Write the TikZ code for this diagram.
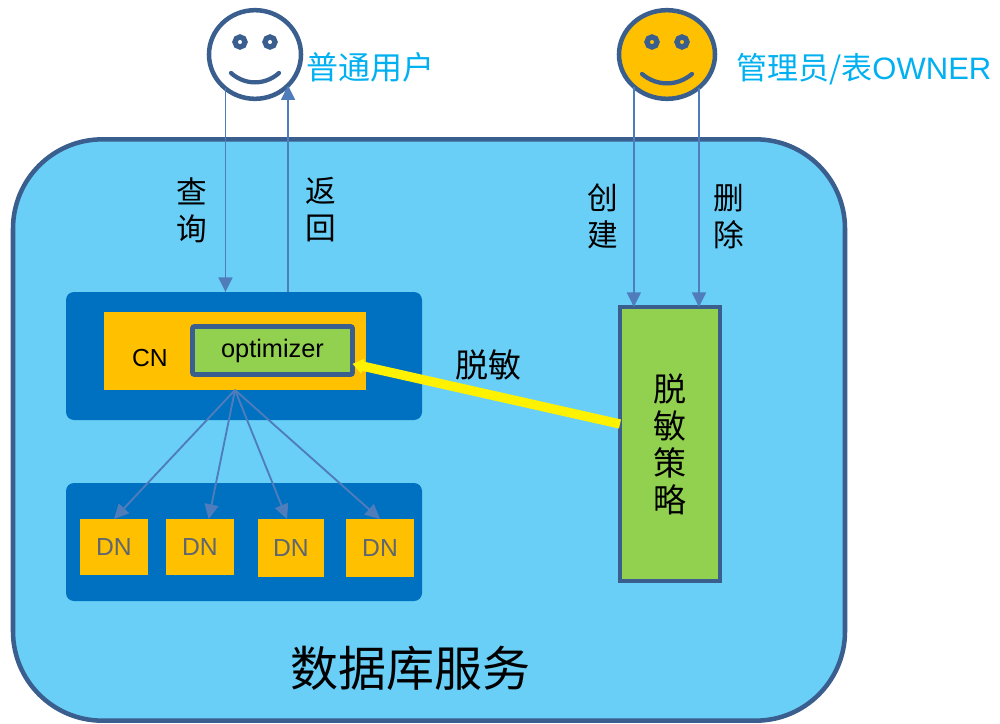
\documentclass[tikz,border=0pt]{standalone}
\usepackage{fontspec}
\setmainfont{Liberation Sans}
\newfontfamily\cjk{Noto Sans CJK SC}
\usetikzlibrary{
	arrows.meta,
	positioning,
	shapes.geometric,
	calc,
}
\definecolor{MyBorder}{HTML}{3A5F8F}
\definecolor{MyLine}{HTML}{4F7DBB}
\definecolor{MySky}{HTML}{69CFF7}
\definecolor{MyBlue}{HTML}{0070C0}
\definecolor{MyGold}{HTML}{FFC000}
\definecolor{MyGreen}{HTML}{92D050}
\definecolor{MyCyan}{HTML}{00B0F0}
\definecolor{MyGray}{HTML}{5F6670}

\begin{document}
\begin{tikzpicture}	[
				x=0.75pt,y=-0.75pt,
				every node/.style={align=center,outer sep=0pt,inner sep=0pt},
				face/.style={ellipse,draw=MyBorder,line width=3.4pt},
				eye/.style={circle,draw=MyBorder,line width=4pt,minimum size=7.5pt},
				smile/.style={draw=MyBorder,line width=3.2pt,line cap=round},
				panel/.style={fill=MyBlue,rounded corners=6pt,minimum width=267pt},
				dnbox/.style={fill=MyGold,text=MyGray,font=\fontsize{18.5}{22}\selectfont},
				flow/.style={-{Triangle[length=11pt,width=10.5pt]},draw=MyLine,line width=1.4pt},
				vlabel/.style={font=\cjk\fontsize{23}{27.75}\selectfont},
				usertext/.style={text=MyCyan,font=\fontsize{23.25}{27}\selectfont},
			]
			\useasboundingbox (0,0) rectangle (1000,724);

			\node (service) [rectangle,draw=MyBorder,line width=3.4pt,fill=MySky,rounded corners=67pt,minimum width=624pt,minimum height=436pt] at (429,430) {};
			\node (servicename) [font=\cjk\fontsize{36}{42}\selectfont] at (410,668) {数据库服务};

			\node (cnpanel) [panel,minimum height=96pt] at (244,356) {};
			\node (dnpanel) [panel,minimum height=88.5pt,below=47.25pt of cnpanel] {};
			\node (cnbox) [fill=MyGold,minimum width=196.5pt,minimum height=58.5pt] at (235,351) {};
			\node (cnname) [font=\fontsize{18.5}{22}\selectfont] at (150,358) {CN};
			\node (optimizer) [draw=MyBorder,line width=3.6pt,fill=MyGreen,rounded corners=1.5pt,minimum width=120pt,minimum height=36pt,font=\fontsize{19}{22}\selectfont] at (272.5,350.5) {optimizer};

			\node (dna) [dnbox,minimum width=51pt,minimum height=42pt] at (114,547) {DN};
			\node (dnb) [dnbox,minimum width=51pt,minimum height=42pt,right=13.5pt of dna] {DN};
			\node (dnc) [dnbox,minimum width=49.5pt,minimum height=43.5pt] at (291,548) {DN};
			\node (dnd) [dnbox,minimum width=51pt,minimum height=43.5pt,right=16.5pt of dnc] {DN};

			\node (policy) [draw=MyBorder,line width=3.6pt,fill=MyGreen,minimum width=75pt,minimum height=205.5pt,font=\cjk\fontsize{24.75}{27.75}\selectfont] at (670,444) {脱\\敏\\策\\略};

			\node (user) [face,fill=white,minimum width=69pt,minimum height=66.5pt] at (255,54.5) {};
			\node (usereyel) [eye] at ([shift={(-15,-12.5)}]user.center) {};
			\node (usereyer) [eye] at ([shift={(15,-12.5)}]user.center) {};
			\draw[smile] ([shift={(-24,18.5)}]user.center) .. controls ([shift={(-10,31)}]user.center) and ([shift={(10,31)}]user.center) .. ([shift={(24,18.5)}]user.center);
			\node (username) [usertext,font=\cjk\fontsize{24}{27}\selectfont,right=4pt of user,yshift=-9.5pt] {普通用户};

			\node (owner) [face,fill=MyGold,minimum width=72pt,minimum height=66.5pt] at (667,54.5) {};
			\node (ownereyel) [eye] at ([shift={(-15,-12.5)}]owner.center) {};
			\node (ownereyer) [eye] at ([shift={(15,-12.5)}]owner.center) {};
			\draw[smile] ([shift={(-25,19.5)}]owner.center) .. controls ([shift={(-10,32)}]owner.center) and ([shift={(10,32)}]owner.center) .. ([shift={(25,19.5)}]owner.center);
			\node (ownername) [usertext,right=16pt of owner,yshift=-11pt] {{\cjk 管理员/表}OWNER};

			\draw[flow] (user.229) -- node[vlabel,left=14pt,pos=.6] {查\\询} (user.229 |- cnpanel.north);
			\draw[flow] (user.317 |- cnpanel.north) -- node[vlabel,right=13pt,pos=.4] {返\\回} (user.317);
			\draw[flow] (owner.224) -- node[vlabel,left=11.5pt,pos=.59] {创\\建} (owner.224 |- policy.north);
			\draw[flow] (owner.314) -- node[vlabel,right=11pt,pos=.59] {删\\除} (owner.314 |- policy.north);

			\draw[-{Triangle[length=8pt,width=11pt]},draw=yellow,line width=7pt] ([yshift=15pt]policy.west) -- node[midway,above=10.5pt,xshift=2pt,font=\cjk\fontsize{24.75}{28}\selectfont] {脱敏} ([yshift=-10pt]optimizer.east);

			\draw[flow] (cnbox.south) -- (dna.north);
			\draw[flow] (cnbox.south) -- ([xshift=6.5pt]dnb.north);
			\draw[flow] (cnbox.south) -- ([xshift=-3pt]dnc.north);
			\draw[flow] (cnbox.south) -- (dnd.north);
		\end{tikzpicture}
\end{document}
